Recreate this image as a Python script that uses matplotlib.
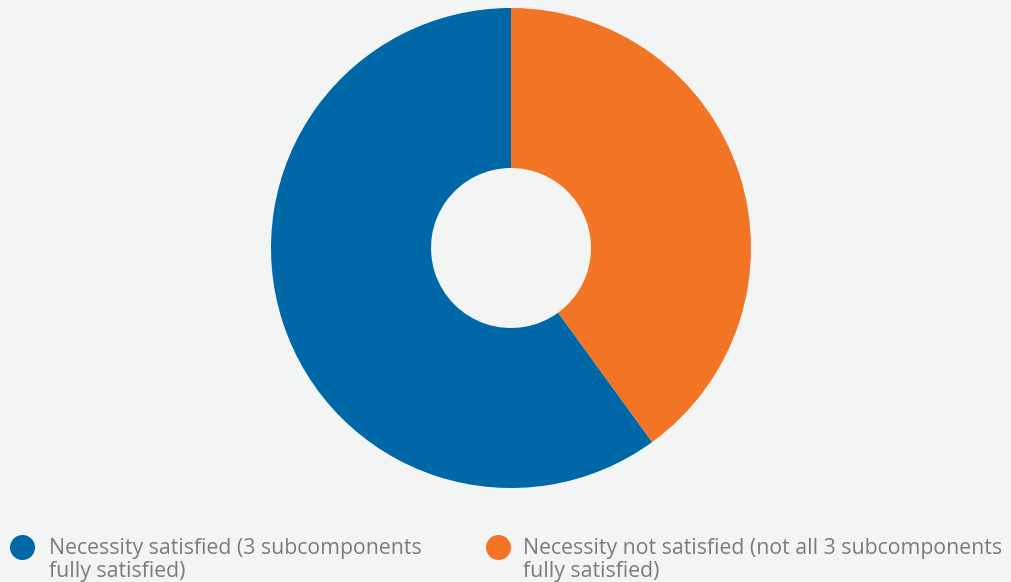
import matplotlib
matplotlib.use("Agg")
import matplotlib.pyplot as plt
from matplotlib.lines import Line2D

# Data
labels = [
    "Necessity satisfied (3 subcomponents\nfully satisfied)",
    "Necessity not satisfied (not all 3 subcomponents\nfully satisfied)",
]
shares = [60, 40]
colors = ["#0068a6", "#f27526"]

W, H = 1011, 582
bg = "#f3f5f5"

fig = plt.figure(figsize=(W / 100, H / 100), dpi=100, facecolor=bg)

# Donut axes, positioned in pixels
ax = fig.add_axes([271 / W, 94 / H, 480 / W, 480 / H])
ax.set_facecolor(bg)
# orange drawn clockwise from 12 o'clock, then blue
ax.pie(
    shares[::-1],
    colors=colors[::-1],
    startangle=90,
    counterclock=False,
    radius=1,
    wedgeprops=dict(width=1 - 80 / 240, linewidth=0),
)
ax.set_xlim(-1, 1)
ax.set_ylim(-1, 1)
ax.set_aspect("equal")
ax.axis("off")

# Legend drawn by hand
legend_x = [22, 498]
text_x = [49, 523]
for i in range(len(labels)):
    fig.add_artist(
        Line2D(
            [legend_x[i] / W], [1 - 547 / H],
            marker="o", markersize=17, color=colors[i],
            transform=fig.transFigure, linestyle="none",
        )
    )
    fig.text(
        text_x[i] / W, 1 - 577 / H, labels[i],
        ha="left", va="baseline", fontsize=15.3, color="#7b7b7b",
        family="Open Sans", linespacing=1.15,
    )

fig.savefig("out.png", dpi=100, facecolor=bg)
